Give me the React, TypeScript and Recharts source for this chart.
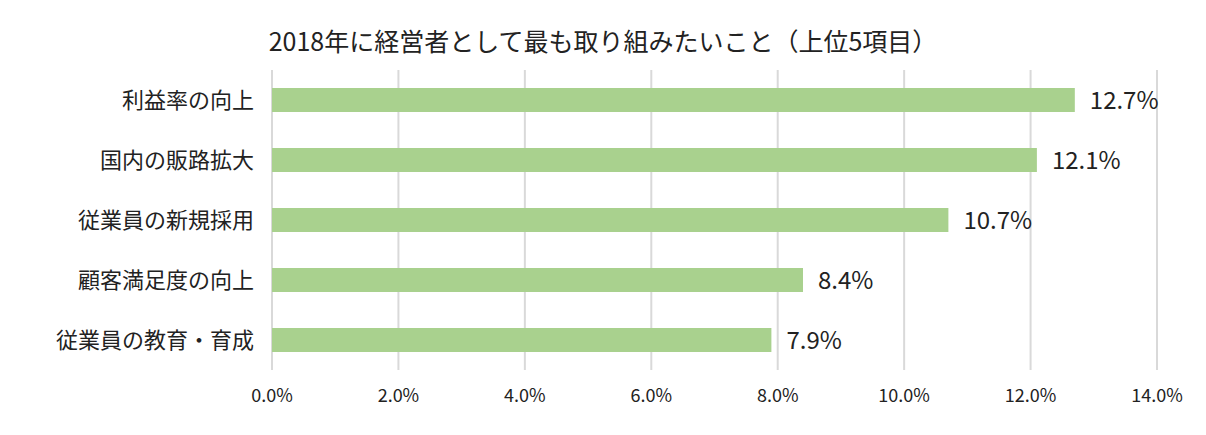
import React from "react";
import { BarChart, Bar, XAxis, YAxis, CartesianGrid, LabelList } from "recharts";

const categories = ["利益率の向上", "国内の販路拡大", "従業員の新規採用", "顧客満足度の向上", "従業員の教育・育成"];
const values = [12.7, 12.1, 10.7, 8.4, 7.9];
const xTicks = [0, 2, 4, 6, 8, 10, 12, 14];
const title = "2018年に経営者として最も取り組みたいこと（上位5項目）";

const data = categories.map((c, i) => ({ name: c, value: values[i] }));

const FONT = '"Liberation Sans Narrow", "Noto Sans CJK JP", sans-serif';

export default function App() {
  return (
    <div style={{ position: "absolute", left: 0, top: 0, width: 1206, height: 435, background: "#fff", fontFamily: FONT }}>
      <div style={{ position: "absolute", left: 0, top: 22, width: 1206, textAlign: "center", fontSize: 25, color: "#222", fontFamily: FONT }}>
        {title}
      </div>
      <BarChart
        width={1206}
        height={435}
        data={data}
        layout="vertical"
        margin={{ top: 70, right: 49, bottom: 25, left: 10 }}
        barCategoryGap={18}
      >
        <CartesianGrid horizontal={false} vertical={true} stroke="#d9d9d9" strokeWidth={2} />
        <XAxis
          type="number"
          domain={[0, 14]}
          ticks={xTicks}
          tickFormatter={(v: number) => v.toFixed(1) + "%"}
          axisLine={false}
          tickLine={false}
          height={40}
          tickMargin={13}
          tick={{ fontSize: 18, fill: "#222", fontFamily: FONT }}
          interval={0}
        />
        <YAxis
          type="category"
          dataKey="name"
          width={262}
          axisLine={false}
          tickLine={false}
          tickMargin={12}
          tick={{ fontSize: 22, fill: "#222", fontFamily: FONT }}
        />
        <Bar dataKey="value" fill="#a9d18e" isAnimationActive={false} barSize={24}>
          <LabelList
            dataKey="value"
            position="right"
            offset={15}
            formatter={(v: number) => v.toFixed(1) + "%"}
            style={{ fontSize: 24, fill: "#222", fontFamily: FONT }}
          />
        </Bar>
      </BarChart>
    </div>
  );
}
